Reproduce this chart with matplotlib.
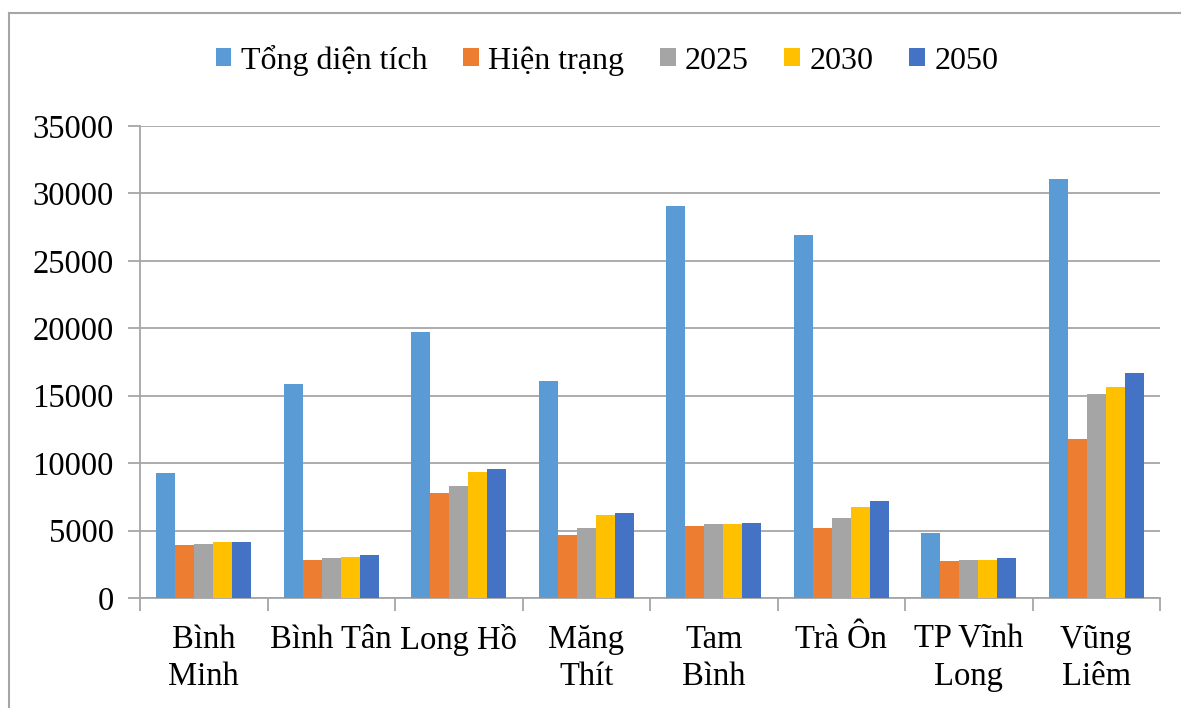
import numpy as np
import matplotlib.pyplot as plt
from matplotlib.lines import Line2D

plt.rcParams['font.family'] = ['Liberation Serif', 'DejaVu Serif']

categories = ["Bình\nMinh", "Bình Tân", "Long Hồ", "Măng\nThít", "Tam\nBình",
              "Trà Ôn", "TP Vĩnh\nLong", "Vũng\nLiêm"]
series = ["Tổng diện tích", "Hiện trạng", "2025", "2030", "2050"]
tong_dien_tich = [9300, 15850, 19750, 16100, 29100, 26900, 4850, 31100]
hien_trang = [3900, 2820, 7800, 4700, 5340, 5210, 2740, 11800]
y2025 = [4030, 2940, 8300, 5210, 5460, 5910, 2820, 15100]
y2030 = [4150, 3060, 9350, 6150, 5460, 6750, 2820, 15620]
y2050 = [4150, 3190, 9600, 6280, 5580, 7220, 2990, 16700]
colors = ["#5B9BD5", "#ED7D31", "#A5A5A5", "#FFC000", "#4472C4"]

data = [tong_dien_tich, hien_trang, y2025, y2030, y2050]

fig = plt.figure(figsize=(11.81, 7.08), dpi=100)
ax = fig.add_axes([140/1181, 110/708, 1020/1181, 472/708])

x = np.arange(len(categories))
w = 0.149
for i, (vals, name, c) in enumerate(zip(data, series, colors)):
    ax.bar(x + (i - 2) * w, vals, w, color=c, label=name, zorder=3)

ax.set_xlim(-0.5, len(categories) - 0.5)
ax.set_ylim(0, 35000)
ax.set_yticks(range(0, 35001, 5000))
ax.yaxis.grid(True, color="#A6A6A6", lw=1.3, zorder=0)
ax.set_axisbelow(True)

# category labels between boundary ticks
ax.set_xticks(np.arange(-0.5, len(categories)), minor=False)
ax.set_xticklabels([])
ax.set_xticks(x, minor=True)
ax.set_xticklabels(categories, minor=True, fontsize=23.5, linespacing=1.3)
ax.tick_params(axis="x", which="major", length=9, width=1.3, color="#A6A6A6")
ax.tick_params(axis="x", which="minor", length=0, pad=19)
ax.tick_params(axis="y", length=9, width=1.3, color="#A6A6A6", labelsize=23.5, pad=10)

for s in ["top", "right"]:
    ax.spines[s].set_visible(False)
for s in ["left", "bottom"]:
    ax.spines[s].set_color("#A6A6A6")
    ax.spines[s].set_linewidth(1.3)

fig.legend(loc="center", bbox_to_anchor=(607/1181, 1 - 60/708), ncol=5, frameon=False,
           fontsize=23, handlelength=0.5, handleheight=0.5, handletextpad=0.3,
           columnspacing=1.1)

# outer border (top and left visible)
fig.add_artist(Line2D([9/1181, 1], [1 - 13/708, 1 - 13/708], color="#A6A6A6", lw=1.5,
                      transform=fig.transFigure))
fig.add_artist(Line2D([9/1181, 9/1181], [0, 1 - 13/708], color="#A6A6A6", lw=1.5,
                      transform=fig.transFigure))

plt.savefig("out.png", dpi=100)
